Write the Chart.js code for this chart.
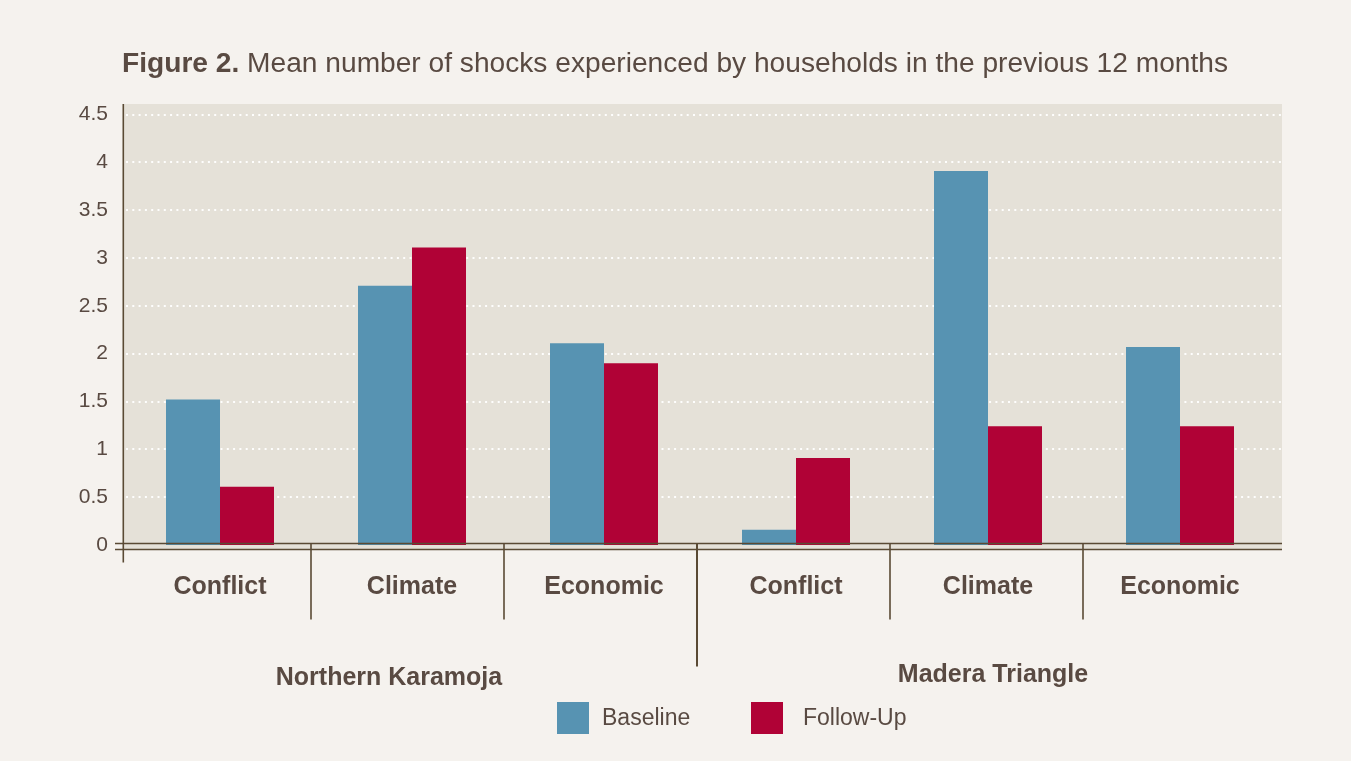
<!DOCTYPE html>
<html>
<head>
<meta charset="utf-8">
<script src="https://cdn.jsdelivr.net/npm/chart.js@4/dist/chart.umd.min.js"></script>
<style>
  html, body { margin: 0; padding: 0; background: #f5f2ee; }
  #wrap { width: 1351px; height: 761px; }
</style>
</head>
<body>
<div id="wrap"><canvas id="c" width="1351" height="761"></canvas></div>
<script>
// ---- data ----
const categories = ['Conflict', 'Climate', 'Economic', 'Conflict', 'Climate', 'Economic'];
const groups = ['Northern Karamoja', 'Madera Triangle'];
const baseline = [1.52, 2.71, 2.11, 0.16, 3.91, 2.07];
const followUp = [0.61, 3.11, 1.90, 0.91, 1.24, 1.24];
const yTickLabels = ['0', '0.5', '1', '1.5', '2', '2.5', '3', '3.5', '4', '4.5'];
const seriesNames = ['Baseline', 'Follow-Up'];
const seriesColors = ['#5793b2', '#b00236'];
const titleBold = 'Figure 2.';
const titleRest = ' Mean number of shocks experienced by households in the previous 12 months';

const FONT = '"Liberation Sans", Arial, Helvetica, sans-serif';
const TEXT = '#594a42';
const LINE = '#5a4a34';

const decor = {
  id: 'decor',
  beforeDraw(chart) {
    const ctx = chart.ctx;
    const y = chart.scales.y;
    const ca = chart.chartArea;
    ctx.save();
    ctx.fillStyle = '#f5f2ee';
    ctx.fillRect(0, 0, chart.width, chart.height);
    // plot background
    ctx.fillStyle = '#e5e1d8';
    ctx.fillRect(ca.left - 1, ca.top - 10.5, (ca.right + 6) - (ca.left - 1), (ca.bottom + 5) - (ca.top - 10.5));
    // dotted gridlines
    ctx.strokeStyle = 'rgba(255,255,255,0.95)';
    ctx.lineWidth = 2;
    ctx.setLineDash([2, 4.3]);
    y.ticks.forEach((t) => {
      if (t.value === 0) return;
      const py = Math.round(y.getPixelForValue(t.value));
      ctx.beginPath();
      ctx.moveTo(ca.left + 2, py);
      ctx.lineTo(ca.right + 6, py);
      ctx.stroke();
    });
    ctx.restore();
  },
  afterDatasetsDraw(chart) {
    const ctx = chart.ctx;
    const x = chart.scales.x;
    const y = chart.scales.y;
    const ca = chart.chartArea;
    const y0 = y.getPixelForValue(0);
    ctx.save();
    ctx.strokeStyle = LINE;
    ctx.lineWidth = 1.6;
    // zero double line
    [y0 - 1.5, y0 + 4.5].forEach(py => {
      ctx.beginPath();
      ctx.moveTo(ca.left - 9, py);
      ctx.lineTo(ca.right + 6, py);
      ctx.stroke();
    });
    // y axis line
    ctx.beginPath();
    ctx.moveTo(ca.left - 0.7, ca.top - 10.5);
    ctx.lineTo(ca.left - 0.7, y0 + 17.5);
    ctx.stroke();
    // category separators
    for (let i = 0; i < categories.length - 1; i++) {
      const sx = (x.getPixelForValue(i) + x.getPixelForValue(i + 1)) / 2 - 5 + i;
      const long = (i === 2);
      ctx.lineWidth = long ? 2 : 1.6;
      ctx.beginPath();
      ctx.moveTo(sx, y0 - 1.5);
      ctx.lineTo(sx, y0 + (long ? 121.5 : 74.5));
      ctx.stroke();
    }
    ctx.restore();
  },
  afterDraw(chart) {
    const ctx = chart.ctx;
    ctx.save();
    // title: 27px, scaled horizontally to the reference width
    const targetW = 1106;
    const fs = 27;
    ctx.font = 'bold ' + fs + 'px ' + FONT;
    const wb = ctx.measureText(titleBold).width;
    ctx.font = fs + 'px ' + FONT;
    const wr = ctx.measureText(titleRest).width;
    const sx = targetW / (wb + wr);
    const startX = 122;
    ctx.fillStyle = TEXT;
    ctx.textBaseline = 'alphabetic';
    ctx.textAlign = 'left';
    ctx.save();
    ctx.translate(startX, 72);
    ctx.scale(sx, 1);
    ctx.font = 'bold ' + fs + 'px ' + FONT;
    ctx.fillText(titleBold, 0, 0);
    ctx.font = fs + 'px ' + FONT;
    ctx.fillText(titleRest, wb, 0);
    ctx.restore();

    // group labels
    ctx.font = 'bold 25px ' + FONT;
    ctx.textAlign = 'center';
    ctx.fillText(groups[0], 389, 685);
    ctx.fillText(groups[1], 993, 682);

    // legend
    const boxes = [557, 751];
    const textOff = [45, 52];
    ctx.font = '23px ' + FONT;
    ctx.textAlign = 'left';
    seriesNames.forEach((n, i) => {
      ctx.fillStyle = seriesColors[i];
      ctx.fillRect(boxes[i], 702, 32, 32);
      ctx.fillStyle = TEXT;
      ctx.fillText(n, boxes[i] + textOff[i], 725);
    });
    ctx.restore();
  }
};

new Chart(document.getElementById('c'), {
  type: 'bar',
  data: {
    labels: categories,
    datasets: [
      { label: seriesNames[0], data: baseline, backgroundColor: seriesColors[0] },
      { label: seriesNames[1], data: followUp, backgroundColor: seriesColors[1] }
    ]
  },
  options: {
    responsive: false,
    animation: false,
    devicePixelRatio: 1,
    layout: { padding: { top: 114.5, left: 0, right: 75, bottom: 136 } },
    datasets: { bar: { categoryPercentage: 0.5625, barPercentage: 1 } },
    plugins: {
      legend: { display: false },
      title: { display: false },
      tooltip: { enabled: false }
    },
    scales: {
      x: {
        grid: { display: false, drawTicks: false },
        border: { display: false },
        ticks: { color: TEXT, font: { family: FONT, size: 25, weight: 'bold' }, padding: 27, maxRotation: 0, autoSkip: false },
        afterFit(s) { s.height = 80; }
      },
      y: {
        min: 0, max: 4.5,
        grid: { display: false, drawTicks: false },
        border: { display: false },
        ticks: {
          stepSize: 0.5,
          color: TEXT,
          font: { family: FONT, size: 21 },
          padding: 16,
          callback: (v, i) => yTickLabels[i]
        },
        afterFit(s) { s.width = 124; }
      }
    }
  },
  plugins: [decor]
});
</script>
</body>
</html>
